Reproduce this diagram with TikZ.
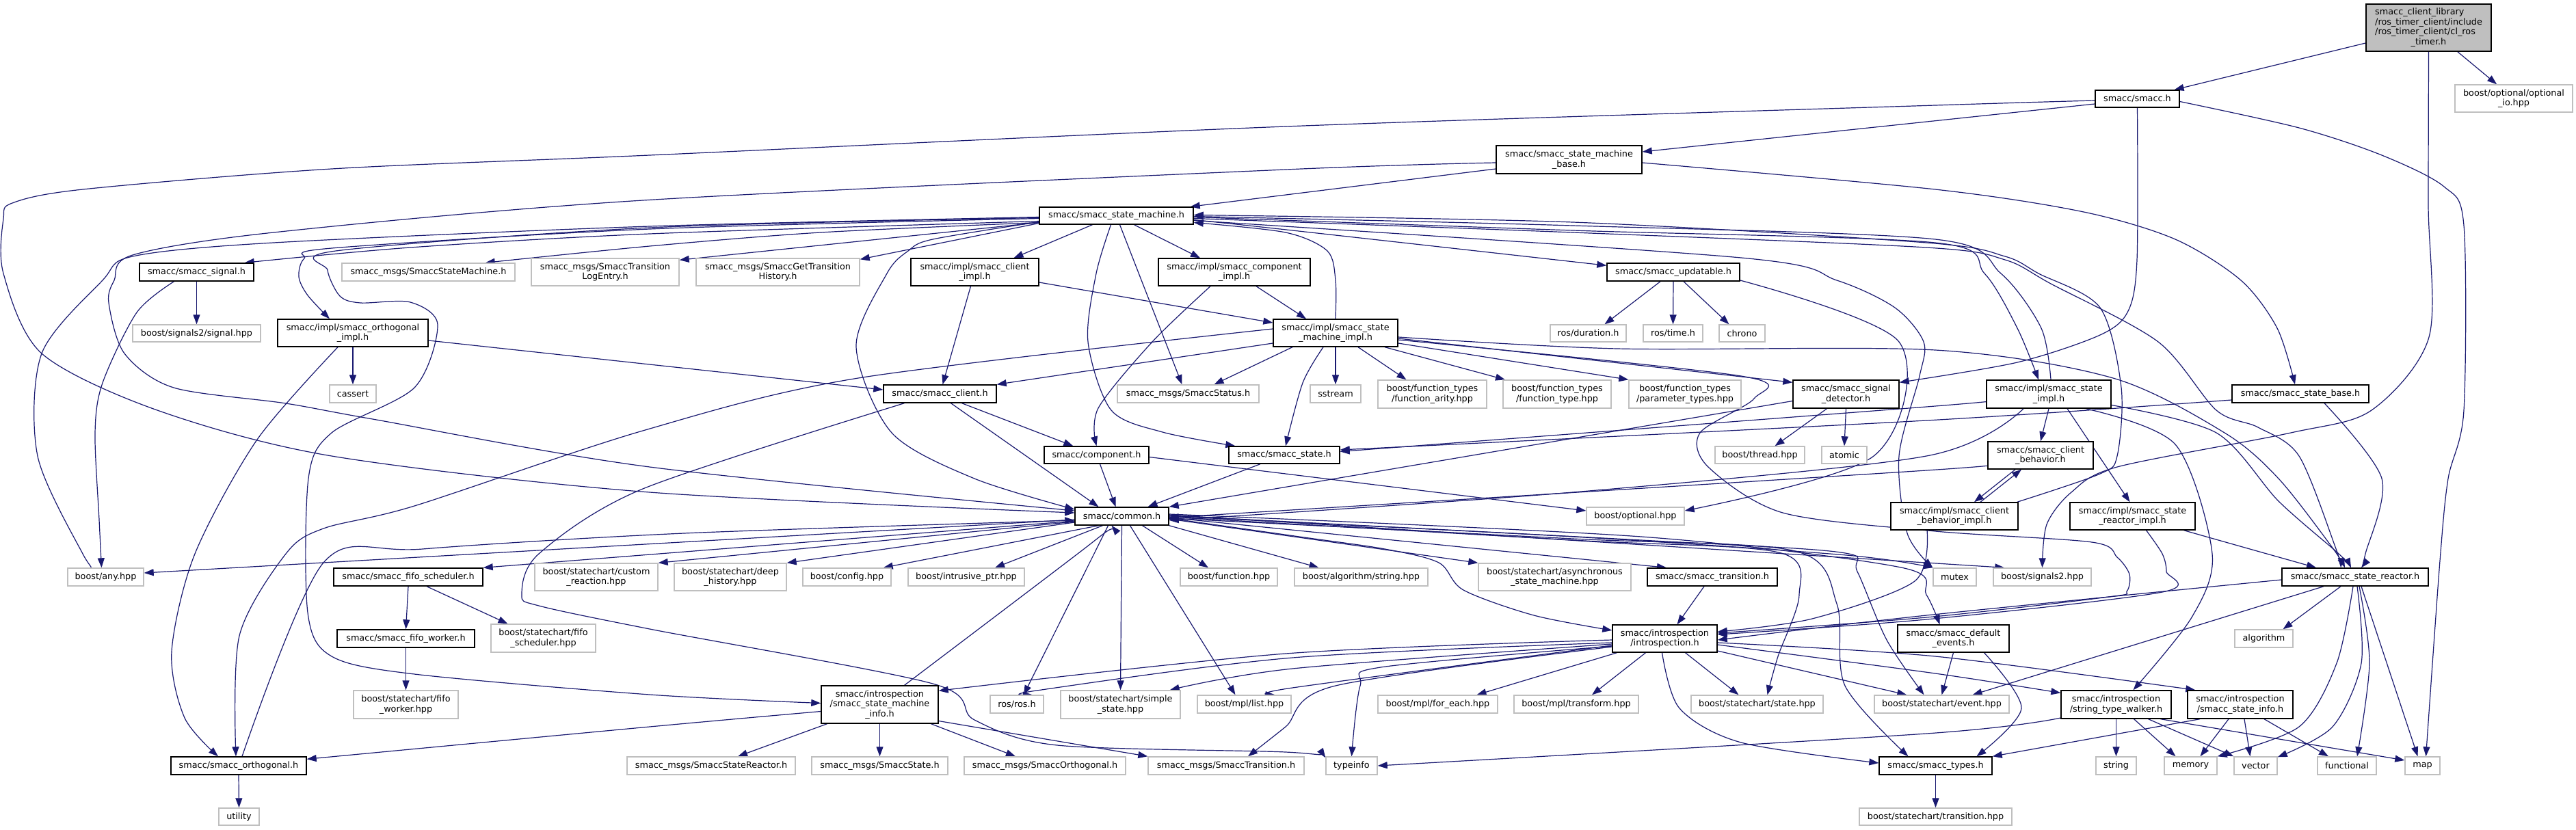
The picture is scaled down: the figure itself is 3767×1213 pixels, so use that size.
\documentclass[tikz,border=0pt]{standalone}
\usepackage{fontspec}
\setmainfont{DejaVu Sans}
\usetikzlibrary{arrows.meta}
\definecolor{edgec}{HTML}{191970}
\definecolor{gb}{HTML}{BFBFBF}
\newcommand\nodefnt{\fontsize{12.8pt}{14.6pt}\selectfont}
\newcommand\mknode[7]{\node[#6, minimum width={(#4)-(#2)}, minimum height={(#5)-(#3)}] (#1) at ({((#2)+(#4))/2},{((#3)+(#5))/2}) {#7};}
\pgfdeclarelayer{edgelayer}
\pgfsetlayers{edgelayer,main}
\begin{document}
\begin{tikzpicture}[x=1pt,y=-1pt,
  nb/.style={draw=black, fill=white, line width=1.4pt, inner sep=0pt, align=center, font=\nodefnt},
  ng/.style={draw=gb, fill=white, line width=1.4pt, inner sep=0pt, align=center, font=\nodefnt},
  nr/.style={draw=black, fill=gb, line width=1.4pt, inner sep=0pt, align=center, font=\nodefnt},
  ed/.style={draw=edgec, line width=1.2pt, -{Triangle[length=14pt,width=10pt]}},
  sm/.style={smooth, tension=0.5}
]
\useasboundingbox (0,0) rectangle (3767,1213);
% ---------- nodes ----------
\mknode{root}{3460}{6}{3643}{75}{nr}{\begin{tabular}{@{}l@{}}smacc\_client\_library\\/ros\_timer\_client/include\\/ros\_timer\_client/cl\_ros\\\multicolumn{1}{@{}c@{}}{\_timer.h}\end{tabular}}
\mknode{optio}{3590}{124}{3762}{164}{ng}{boost/optional/optional\\\_io.hpp}
\mknode{smacch}{3064}{132}{3187}{157}{nb}{smacc/smacc.h}
\mknode{smbase}{2188}{213}{2401}{254}{nb}{smacc/smacc\_state\_machine\\\_base.h}
\mknode{smh}{1520}{303}{1745}{328}{nb}{smacc/smacc\_state\_machine.h}
\mknode{signalh}{204}{385}{371}{411}{nb}{smacc/smacc\_signal.h}
\mknode{msgsm}{500}{385}{753}{411}{ng}{smacc\_msgs/SmaccStateMachine.h}
\mknode{msglog}{777}{378}{993}{418}{ng}{smacc\_msgs/SmaccTransition\\LogEntry.h}
\mknode{msghist}{1018}{378}{1257}{418}{ng}{smacc\_msgs/SmaccGetTransition\\History.h}
\mknode{climpl}{1332}{378}{1519}{418}{nb}{smacc/impl/smacc\_client\\\_impl.h}
\mknode{compimpl}{1694}{378}{1916}{418}{nb}{smacc/impl/smacc\_component\\\_impl.h}
\mknode{upd}{2350}{385}{2544}{411}{nb}{smacc/smacc\_updatable.h}
\mknode{sig2}{194}{475}{381}{500}{ng}{boost/signals2/signal.hpp}
\mknode{orthimpl}{406}{467}{626}{507}{nb}{smacc/impl/smacc\_orthogonal\\\_impl.h}
\mknode{smimpl}{1862}{467}{2044}{507}{nb}{smacc/impl/smacc\_state\\\_machine\_impl.h}
\mknode{dur}{2267}{475}{2378}{500}{ng}{ros/duration.h}
\mknode{rtime}{2403}{475}{2490}{500}{ng}{ros/time.h}
\mknode{chrono}{2514}{475}{2581}{500}{ng}{chrono}
\mknode{cassert}{482}{563}{550}{589}{ng}{cassert}
\mknode{client}{1292}{563}{1457}{589}{nb}{smacc/smacc\_client.h}
\mknode{status}{1634}{563}{1841}{589}{ng}{smacc\_msgs/SmaccStatus.h}
\mknode{sstream}{1916}{563}{1990}{589}{ng}{sstream}
\mknode{farity}{2015}{556}{2174}{597}{ng}{boost/function\_types\\/function\_arity.hpp}
\mknode{ftype}{2198}{556}{2356}{597}{ng}{boost/function\_types\\/function\_type.hpp}
\mknode{fparam}{2382}{556}{2546}{597}{ng}{boost/function\_types\\/parameter\_types.hpp}
\mknode{sigdet}{2622}{556}{2777}{597}{nb}{smacc/smacc\_signal\\\_detector.h}
\mknode{stimpl}{2905}{556}{3087}{597}{nb}{smacc/impl/smacc\_state\\\_impl.h}
\mknode{stbase}{3264}{563}{3464}{589}{nb}{smacc/smacc\_state\_base.h}
\mknode{comp}{1527}{653}{1680}{678}{nb}{smacc/component.h}
\mknode{state}{1797}{653}{1959}{678}{nb}{smacc/smacc\_state.h}
\mknode{thread}{2508}{653}{2639}{678}{ng}{boost/thread.hpp}
\mknode{atomic}{2664}{653}{2730}{678}{ng}{atomic}
\mknode{cb}{2907}{646}{3061}{686}{nb}{smacc/smacc\_client\\\_behavior.h}
\mknode{common}{1572}{742}{1709}{768}{nb}{smacc/common.h}
\mknode{bopt}{2320}{742}{2463}{768}{ng}{boost/optional.hpp}
\mknode{cbimpl}{2765}{735}{2951}{775}{nb}{smacc/impl/smacc\_client\\\_behavior\_impl.h}
\mknode{srimpl}{3027}{735}{3210}{775}{nb}{smacc/impl/smacc\_state\\\_reactor\_impl.h}
\mknode{any}{99}{831}{210}{857}{ng}{boost/any.hpp}
\mknode{fifosch}{488}{831}{706}{857}{nb}{smacc/smacc\_fifo\_scheduler.h}
\mknode{custom}{782}{824}{962}{864}{ng}{boost/statechart/custom\\\_reaction.hpp}
\mknode{deep}{986}{824}{1150}{864}{ng}{boost/statechart/deep\\\_history.hpp}
\mknode{config}{1174}{831}{1303}{857}{ng}{boost/config.hpp}
\mknode{intr}{1328}{831}{1498}{857}{ng}{boost/intrusive\_ptr.hpp}
\mknode{func}{1726}{831}{1868}{857}{ng}{boost/function.hpp}
\mknode{algstr}{1893}{831}{2088}{857}{ng}{boost/algorithm/string.hpp}
\mknode{async}{2162}{824}{2385}{864}{ng}{boost/statechart/asynchronous\\\_state\_machine.hpp}
\mknode{trans}{2409}{831}{2599}{857}{nb}{smacc/smacc\_transition.h}
\mknode{mutex}{2827}{831}{2890}{857}{ng}{mutex}
\mknode{sigb}{2915}{831}{3058}{857}{ng}{boost/signals2.hpp}
\mknode{sreact}{3337}{831}{3551}{857}{nb}{smacc/smacc\_state\_reactor.h}
\mknode{fifow}{493}{921}{694}{947}{nb}{smacc/smacc\_fifo\_worker.h}
\mknode{fifoschh}{718}{913}{871}{954}{ng}{boost/statechart/fifo\\\_scheduler.hpp}
\mknode{intro}{2358}{914}{2511}{954}{nb}{smacc/introspection\\/introspection.h}
\mknode{defev}{2775}{914}{2938}{954}{nb}{smacc/smacc\_default\\\_events.h}
\mknode{algo}{3268}{921}{3353}{947}{ng}{algorithm}
\mknode{fifowh}{517}{1010}{670}{1051}{ng}{boost/statechart/fifo\\\_worker.hpp}
\mknode{sminfo}{1201}{1003}{1372}{1058}{nb}{smacc/introspection\\/smacc\_state\_machine\\\_info.h}
\mknode{ros}{1448}{1017}{1526}{1043}{ng}{ros/ros.h}
\mknode{simple}{1551}{1010}{1726}{1051}{ng}{boost/statechart/simple\\\_state.hpp}
\mknode{mpllist}{1751}{1017}{1888}{1043}{ng}{boost/mpl/list.hpp}
\mknode{foreach}{2015}{1017}{2190}{1043}{ng}{boost/mpl/for\_each.hpp}
\mknode{transform}{2214}{1017}{2396}{1043}{ng}{boost/mpl/transform.hpp}
\mknode{statehpp}{2473}{1017}{2666}{1043}{ng}{boost/statechart/state.hpp}
\mknode{event}{2741}{1017}{2938}{1043}{ng}{boost/statechart/event.hpp}
\mknode{stw}{3014}{1010}{3175}{1051}{nb}{smacc/introspection\\/string\_type\_walker.h}
\mknode{sinfo}{3199}{1010}{3353}{1051}{nb}{smacc/introspection\\/smacc\_state\_info.h}
\mknode{orth}{250}{1107}{448}{1133}{nb}{smacc/smacc\_orthogonal.h}
\mknode{msgsr}{917}{1107}{1163}{1133}{ng}{smacc\_msgs/SmaccStateReactor.h}
\mknode{msgst}{1187}{1107}{1386}{1133}{ng}{smacc\_msgs/SmaccState.h}
\mknode{msgorth}{1410}{1107}{1646}{1133}{ng}{smacc\_msgs/SmaccOrthogonal.h}
\mknode{msgtr}{1679}{1107}{1907}{1133}{ng}{smacc\_msgs/SmaccTransition.h}
\mknode{typeinfo}{1939}{1107}{2014}{1133}{ng}{typeinfo}
\mknode{types}{2748}{1107}{2913}{1133}{nb}{smacc/smacc\_types.h}
\mknode{string}{3065}{1107}{3124}{1133}{ng}{string}
\mknode{memory}{3165}{1107}{3242}{1133}{ng}{memory}
\mknode{vector}{3267}{1107}{3330}{1133}{ng}{vector}
\mknode{functional}{3389}{1107}{3475}{1133}{ng}{functional}
\mknode{map}{3517}{1107}{3568}{1133}{ng}{map}
\mknode{utility}{320}{1182}{379}{1207}{ng}{utility}
\mknode{transhpp}{2719}{1182}{2942}{1207}{ng}{boost/statechart/transition.hpp}
% ---------- edges ----------
\begin{pgfonlayer}{edgelayer}
% root
\draw[ed] (root) -- (smacch);
\draw[ed] (root) -- (optio);
\draw[ed] plot[sm] coordinates {(root.south) (3551,300) (3552,493) (3468,600) (3350,633) (3096,683) (3029,720) (2993,767) (sigb.north)};
% smacc.h
\draw[ed] ([yshift=-7.5pt]smacch.west) -- ([yshift=11.5pt]smbase.east);
\draw[ed] plot[sm] coordinates {([yshift=-2.5pt]smacch.west) (2830,154) (1880,185) (950,227) (485,247) (121,277) (18,297) (5,320) (5,400) (61,517) (230,600) (485,667) (950,720) ([yshift=5pt]common.west)};
\draw[ed] plot[sm] coordinates {(smacch.south) (3125,380) (3112,455) (3071,490) (2950,530) ([yshift=-4pt]sigdet.north east)};
\draw[ed] plot[sm] coordinates {([yshift=-4pt]smacch.east) (3362,187) (3483,227) (3574,273) (3603,330) (3603,600) (3580,700) (3568,820) ([xshift=5pt]map.north)};
% state machine base
\draw[ed] ([yshift=-13.5pt]smbase.west) -- ([xshift=-5pt]smh.north east);
\draw[ed] plot[sm] coordinates {([yshift=-4.5pt]smbase.east) (2830,277) (3047,310) (3181,350) (3277,410) (3330,480) ([xshift=-8pt]stbase.north)};
\draw[ed] plot[sm] coordinates {([yshift=-4.5pt]smbase.west) (1880,248) (940,293) (400,340) (194,373) (167,410) (159,443) (182,517) (254,567) (418,590) (545,613) (950,683) ([yshift=8pt]common.west)};
% state machine
\draw[ed] plot[sm] coordinates {([yshift=-8pt]smh.west) (950,342) (600,362) ([xshift=-14pt]signalh.north east)};
\draw[ed] plot[sm] coordinates {([yshift=-10pt]smh.west) (1200,340) (950,360) ([xshift=-44pt]msgsm.north east)};
\draw[ed] ([yshift=-10pt]smh.west) -- ([yshift=-3pt]msglog.north east);
\draw[ed] ([yshift=-11pt]smh.west) -- ([yshift=-2pt]msghist.north east);
\draw[ed] ([xshift=-35pt]smh.south) -- ([xshift=57pt]climpl.north);
\draw[ed] ([xshift=26pt]smh.south) -- ([xshift=-50pt]compimpl.north);
\draw[ed] plot[sm] coordinates {([yshift=-6pt]smh.east) (1890,337) ([yshift=-4pt]upd.north west)};
\draw[ed] plot[sm] coordinates {([yshift=-4pt]smh.west) (950,335) (485,363) (445,378) (437,405) (450,432) ([xshift=-34pt]orthimpl.north)};
\draw[ed] plot[sm] coordinates {([yshift=-2pt]smh.west) (950,331) (400,355) (194,375) (150,410) (61,517) (55,667) (121,810) ([xshift=-15pt]any.north)};
\draw[ed] plot[sm] coordinates {([yshift=-3pt]smh.west) (950,333) (491,367) (479,395) (497,433) (527,443) (600,442) (640,475) (606,567) (485,633) (451,700) (450,896) (485,960) (606,986) (950,1016) ([yshift=2pt]sminfo.west)};
\draw[ed] ([xshift=5pt]smh.south) -- ([xshift=-9pt]status.north);
\draw[ed] plot[sm] coordinates {([xshift=-8pt]smh.south) (1603,400) (1591,500) (1625,600) (1700,632) ([xshift=10pt]state.north west)};
\draw[ed] plot[sm] coordinates {([yshift=-9pt]smh.west) (1364,350) (1328,367) (1297,400) (1252,507) (1304,633) (1425,700) ([yshift=10pt]common.west)};
\draw[ed] plot[sm] coordinates {([yshift=-2pt]smh.east) (2300,337) (2830,355) (2902,400) (2950,480) ([xshift=-15pt]stimpl.north)};
\draw[ed] plot[sm] coordinates {([yshift=-4pt]smh.east) (2300,340) (2817,362) (2932,380) (2999,415) (3156,500) (3241,600) (3302,625) (3362,667) (3415,800) ([xshift=-21pt]sreact.north)};
\draw[ed] plot[sm] coordinates {([yshift=-7pt]smh.east) (2546,377) (2686,410) (2771,450) (2813,500) (2807,550) (2777,667) (2789,780) (mutex.north west)};
% back edges into state machine
\draw[ed] plot[sm] coordinates {([xshift=3pt]stimpl.north) (2985,480) (2926,400) (2830,350) (2300,330) ([yshift=-1pt]smh.east)};
\draw[ed] plot[sm] coordinates {(smimpl.north) (1953,410) (1941,367) (1880,340) ([yshift=-10pt]smh.east)};
\draw[ed] plot[sm] coordinates {([xshift=-2pt]cbimpl.north east) (3071,693) (3096,667) (3102,567) (3071,450) (2981,400) (2932,375) (2817,355) (2300,325) ([yshift=1pt]smh.east)};
% state machine impl
\draw[ed] ([yshift=-15pt]smimpl.west) -- (client.north east);
\draw[ed] ([xshift=-63pt]smimpl.south) -- ([xshift=38pt]status.north);
\draw[ed] (smimpl.south) -- (sstream.north);
\draw[ed] ([xshift=33pt]smimpl.south) -- ([xshift=-38pt]farity.north);
\draw[ed] ([xshift=72pt]smimpl.south) -- ([xshift=-76pt]ftype.north);
\draw[ed] ([yshift=-15pt]smimpl.east) -- (fparam.north west);
\draw[ed] ([yshift=-8pt]smimpl.east) -- ([yshift=-4pt]sigdet.north west);
\draw[ed] plot[sm] coordinates {([xshift=-18pt]smimpl.south) (1905,560) ([xshift=2pt]state.north)};
\draw[ed] plot[sm] coordinates {([yshift=-6pt]smimpl.east) (2365,510) (2830,512) (3090,553) (3253,633) (3332,700) (3410,800) ([xshift=-15pt]sreact.north)};
\draw[ed] plot[sm] coordinates {([yshift=-10pt]smimpl.east) (2546,550) (2565,583) (2486,633) (2498,683) (2607,750) (2830,777) (3059,793) (3096,815) (3114,840) (3110,865) (3084,873) (2817,903) ([yshift=8pt]intro.east)};
\draw[ed] plot[sm] coordinates {([yshift=6pt]smimpl.west) (1255,553) (940,630) (606,740) (473,773) (418,810) (350,930) ([xshift=-4pt]orth.north)};
% client impl / component impl
\draw[ed] ([xshift=-6pt]climpl.south) -- ([xshift=4pt]client.north);
\draw[ed] ([yshift=-15pt]climpl.east) -- ([yshift=15pt]smimpl.west);
\draw[ed] plot[sm] coordinates {([xshift=-35pt]compimpl.south) (1685,500) (1606,597) (comp.north)};
\draw[ed] ([xshift=32pt]compimpl.south) -- ([xshift=-43pt]smimpl.north);
% updatable
\draw[ed] ([xshift=-19pt]upd.south) -- ([xshift=24pt]dur.north);
\draw[ed] (upd.south) -- (rtime.north);
\draw[ed] ([xshift=15pt]upd.south) -- ([xshift=-19pt]chrono.north);
\draw[ed] plot[sm] coordinates {([yshift=-12pt]upd.east) (2777,500) (2740,667) ([yshift=8pt]bopt.east)};
% orthogonal impl
\draw[ed] (orthimpl.south) -- (cassert.north);
\draw[ed] ([yshift=-11pt]orthimpl.east) -- ([yshift=6pt]client.west);
\draw[ed] plot[sm] coordinates {([xshift=-22pt]orthimpl.south) (376,643) (285,810) (251,953) (270,1050) ([xshift=-30pt]orth.north)};
% signal
\draw[ed] (signalh.south) -- (sig2.north);
\draw[ed] plot[sm] coordinates {([xshift=-33pt]signalh.south) (200,457) (150,560) (139,633) (145,760) ([xshift=-6pt]any.north)};
% client
\draw[ed] ([xshift=32pt]client.south) -- ([xshift=43pt]comp.north west);
\draw[ed] ([xshift=16pt]client.south) -- ([xshift=-34pt]common.north);
\draw[ed] plot[sm] coordinates {([xshift=-52pt]client.south) (940,715) (788,810) (763,870) (788,886) (950,920) (1364,1000) (1425,1053) (1546,1090) (1880,1100) ([yshift=-2pt]typeinfo.north west)};
% component
\draw[ed] ([xshift=5pt]comp.south) -- ([xshift=-9pt]common.north);
\draw[ed] plot[sm] coordinates {([yshift=-3pt]comp.east) (1880,693) ([yshift=8pt]bopt.west)};
% state
\draw[ed] ([xshift=-35pt]state.south) -- ([xshift=38pt]common.north);
% signal detector
\draw[ed] ([xshift=-28pt]sigdet.south) -- ([xshift=22pt]thread.north);
\draw[ed] (sigdet.south) -- (atomic.north);
\draw[ed] ([yshift=-10pt]sigdet.west) -- (common.north east);
% state impl
\draw[ed] (stimpl.south) -- (cb.north);
\draw[ed] ([xshift=27pt]stimpl.south) -- ([xshift=-4pt]srimpl.north);
\draw[ed] plot[sm] coordinates {([yshift=-10pt]stimpl.west) (2817,595) ([yshift=5pt]state.east)};
\draw[ed] plot[sm] coordinates {([xshift=-37pt]stimpl.south) (2817,667) (2300,720) ([yshift=-6pt]common.east)};
\draw[ed] plot[sm] coordinates {([yshift=-16pt]stimpl.east) (3241,633) (3332,733) (3420,810) ([xshift=-6pt]sreact.north)};
\draw[ed] plot[sm] coordinates {([xshift=54pt]stimpl.south) (3181,650) (3235,810) (3205,903) ([xshift=25pt]stw.north)};
% state base
\draw[ed] plot[sm] coordinates {([yshift=-9pt]stbase.west) (2817,615) ([yshift=7.5pt]state.east)};
\draw[ed] plot[sm] coordinates {([xshift=35pt]stbase.south) (3483,700) (3459,810) ([xshift=9pt]sreact.north)};
% client behavior
\draw[ed] ([xshift=-37pt]cb.south) -- ([xshift=29pt]cbimpl.north);
\draw[ed] ([xshift=38pt]cbimpl.north) -- ([xshift=-28pt]cb.south);
\draw[ed] plot[sm] coordinates {([yshift=-12pt]cb.west) (2817,688) ([yshift=-2pt]common.east)};
\draw[ed] plot[sm] coordinates {([xshift=-40pt]cbimpl.south) (2800,850) (2650,905) ([yshift=10pt]intro.east)};
% state reactor impl
\draw[ed] plot[sm] coordinates {([xshift=75pt]srimpl.south) (3290,803) ([xshift=-57pt]sreact.north)};
\draw[ed] plot[sm] coordinates {([xshift=20pt]srimpl.south) (3162,810) (3168,836) (3162,866) (2817,906) ([yshift=6pt]intro.east)};
% state reactor
\draw[ed] ([xshift=-21pt]sreact.south) -- ([xshift=28pt]algo.north);
\draw[ed] plot[sm] coordinates {([xshift=-3pt]sreact.south) (3417,970) (3362,1063) (memory.north east)};
\draw[ed] plot[sm] coordinates {([xshift=3pt]sreact.south) (3453,970) (3411,1063) ([yshift=-1pt]vector.north east)};
\draw[ed] plot[sm] coordinates {([xshift=6pt]sreact.south) (3465,970) ([xshift=15pt]functional.north)};
\draw[ed] ([xshift=9pt]sreact.south) -- ([xshift=-7pt]map.north);
\draw[ed] ([xshift=-46pt]sreact.south) -- ([xshift=45pt]event.north);
\draw[ed] plot[sm] coordinates {([yshift=-4pt]sreact.west) (2817,900) ([yshift=-2pt]intro.east)};
% default events
\draw[ed] (defev.south) -- (event.north);
\draw[ed] plot[sm] coordinates {([xshift=45pt]defev.south) (2956,1036) ([xshift=60pt]types.north)};
% introspection
\draw[ed] plot[sm] coordinates {([yshift=-2pt]intro.west) (1880,956) ([yshift=-8pt]sminfo.north east)};
\draw[ed] plot[sm] coordinates {([yshift=-6pt]intro.west) (1890,962) (1516,1010) ([xshift=23pt]ros.north)};
\draw[ed] plot[sm] coordinates {([yshift=-8pt]intro.west) (1890,978) ([xshift=-16pt]simple.north east)};
\draw[ed] plot[sm] coordinates {([yshift=-10pt]intro.west) (1890,1006) ([xshift=-24pt]mpllist.north east)};
\draw[ed] plot[sm] coordinates {([yshift=-12pt]intro.west) (1953,1003) (1880,1063) ([xshift=32pt]msgtr.north)};
\draw[ed] plot[sm] coordinates {([yshift=-11pt]intro.west) (2019,976) (1989,1003) (typeinfo.north)};
\draw[ed] ([xshift=-70pt]intro.south) -- ([xshift=57pt]foreach.north);
\draw[ed] ([xshift=-28pt]intro.south) -- ([xshift=23pt]transform.north);
\draw[ed] ([xshift=30pt]intro.south) -- ([xshift=-27pt]statehpp.north);
\draw[ed] ([yshift=-18pt]intro.east) -- ([xshift=48pt]event.north west);
\draw[ed] plot[sm] coordinates {([xshift=-4pt]intro.south) (2456,1036) (2546,1086) ([yshift=4pt]types.west)};
\draw[ed] plot[sm] coordinates {([yshift=-6pt]intro.east) (2830,960) ([xshift=12pt]sinfo.north west)};
\draw[ed] plot[sm] coordinates {([yshift=-9pt]intro.east) (2830,985) ([yshift=17pt]stw.west)};
% state machine info
\draw[ed] plot[sm] coordinates {([xshift=36pt]sminfo.north) (1585,803) ([xshift=-15pt]common.south)};
\draw[ed] ([xshift=-77pt]sminfo.south) -- ([xshift=39pt]msgsr.north);
\draw[ed] (sminfo.south) -- (msgst.north);
\draw[ed] ([xshift=75pt]sminfo.south) -- ([xshift=-43pt]msgorth.north);
\draw[ed] ([yshift=-24pt]sminfo.east) -- (msgtr.north west);
\draw[ed] plot[sm] coordinates {([yshift=-10pt]sminfo.west) (950,1063) ([yshift=-4pt]orth.north east)};
% transition
\draw[ed] ([xshift=-12pt]trans.south) -- ([xshift=18pt]intro.north);
% common
\draw[ed] plot[sm] coordinates {([yshift=-3pt]common.east) (1900,785) (2025,803) (2104,823) (2140,863) (2243,900) ([yshift=12pt]intro.west)};
\draw[ed] ([yshift=-5pt]common.west) -- ([yshift=6pt]any.east);
\draw[ed] ([yshift=-7pt]common.west) -- (fifosch.north east);
\draw[ed] ([yshift=-8pt]common.west) -- (custom.north east);
\draw[ed] ([yshift=-9pt]common.west) -- (deep.north east);
\draw[ed] ([xshift=-34pt]common.south) -- ([xshift=-12pt]config.north east);
\draw[ed] ([xshift=-28pt]common.south) -- ([xshift=42pt]intr.north);
\draw[ed] ([xshift=-20pt]common.south) -- ([xshift=10pt]ros.north);
\draw[ed] (common.south) -- (simple.north);
\draw[ed] ([xshift=12pt]common.south) -- ([xshift=-13pt]mpllist.north);
\draw[ed] ([xshift=30pt]common.south) -- ([xshift=-30pt]func.north);
\draw[ed] (common.south east) -- ([xshift=-62pt]algstr.north);
\draw[ed] ([yshift=-4pt]common.east) -- (async.north west);
\draw[ed] ([yshift=-2pt]common.east) -- ([xshift=-67pt]trans.north);
\draw[ed] plot[sm] coordinates {(common.east) (2300,785) (2700,812) (mutex.north west)};
\draw[ed] ([yshift=2pt]common.east) -- ([xshift=17pt]sigb.north west);
\draw[ed] plot[sm] coordinates {([yshift=-1pt]common.east) (2300,790) (2601,808) (2631,870) (2600,960) ([xshift=15pt]statehpp.north)};
\draw[ed] plot[sm] coordinates {([yshift=1pt]common.east) (2400,790) (2692,808) (2716,836) (2759,936) ([xshift=-26pt]event.north)};
\draw[ed] plot[sm] coordinates {([yshift=-3pt]common.east) (2300,788) (2625,806) (2686,883) (2698,1003) ([xshift=-40pt]types.north)};
\draw[ed] plot[sm] coordinates {([yshift=3pt]common.east) (2400,785) (2780,830) (2817,870) ([xshift=-20pt]defev.north)};
% fifo etc
\draw[ed] (fifosch.south) -- (fifow.north);
\draw[ed] ([xshift=27pt]fifosch.south) -- ([xshift=-52pt]fifoschh.north);
\draw[ed] (fifow.south) -- (fifowh.north);
\draw[ed] (orth.south) -- (utility.north);
\draw[ed] plot[sm] coordinates {([xshift=5pt]orth.north) (473,823) (618,803) (1000,780) ([yshift=-6pt]common.west)};
\draw[ed] (types.south) -- (transhpp.north);
% string type walker
\draw[ed] plot[sm] coordinates {([yshift=-19.5pt]stw.west) (2817,1073) (typeinfo.east)};
\draw[ed] (stw.south) -- (string.north);
\draw[ed] ([xshift=26pt]stw.south) -- ([xshift=-22pt]memory.north);
\draw[ed] ([xshift=47pt]stw.south) -- (vector.north west);
\draw[ed] ([xshift=65pt]stw.south) -- ([yshift=8pt]map.west);
% state info
\draw[ed] ([xshift=-59pt]sinfo.south) -- (types.north east);
\draw[ed] ([xshift=-17pt]sinfo.south) -- ([xshift=14pt]memory.north);
\draw[ed] ([xshift=6pt]sinfo.south) -- ([xshift=-8pt]vector.north);
\draw[ed] ([xshift=35pt]sinfo.south) -- ([xshift=-27pt]functional.north);
\end{pgfonlayer}
\end{tikzpicture}
\end{document}
